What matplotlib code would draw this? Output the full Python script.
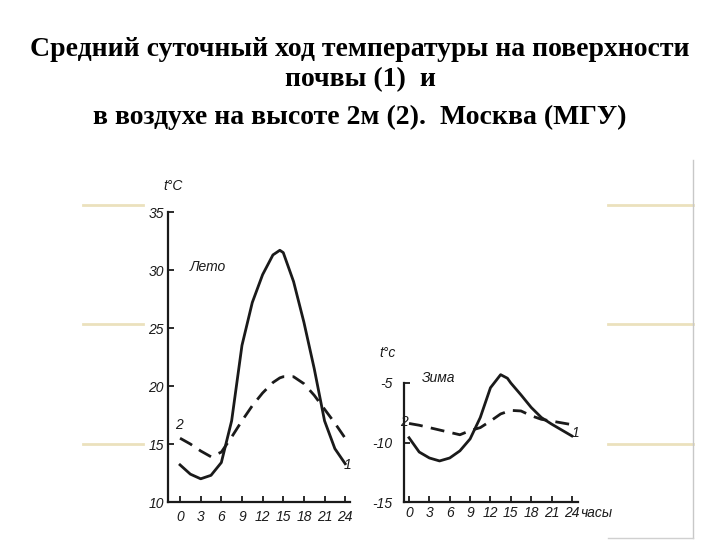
import matplotlib
matplotlib.use('Agg')
import matplotlib.pyplot as plt

# ---------------- данные ----------------
hours = [0, 1.5, 3, 4.5, 6, 7.5, 9, 10.5, 12, 13.5, 14.5, 15, 16.5, 18, 19.5, 21, 22.5, 24]
summer_soil = [13.2, 12.4, 12.0, 12.3, 13.4, 17.0, 23.5, 27.2, 29.6, 31.3, 31.7, 31.5, 29.0,
               25.5, 21.5, 17.0, 14.6, 13.3]
summer_air = [15.5, 15.0, 14.4, 13.9, 14.3, 15.6, 17.0, 18.3, 19.4, 20.3, 20.7, 20.8, 20.8,
              20.2, 19.2, 18.0, 16.8, 15.5]
winter_soil = [-9.6, -10.8, -11.3, -11.55, -11.3, -10.7, -9.7, -7.9, -5.4, -4.3, -4.6, -5.0,
               -6.0, -7.05, -7.9, -8.45, -8.95, -9.45]
winter_air = [-8.4, -8.55, -8.75, -8.95, -9.15, -9.35, -9.0, -8.75, -8.2, -7.6, -7.4, -7.3,
              -7.35, -7.75, -8.05, -8.2, -8.35, -8.5]

hour_ticks = [0, 3, 6, 9, 12, 15, 18, 21, 24]
summer_yticks = [10, 15, 20, 25, 30, 35]
winter_yticks = [-15, -10, -5]

W, H = 720, 540
fig = plt.figure(figsize=(7.2, 5.4), dpi=100)

def px_axes(x0, y0, x1, y1):
    # прямоугольник в пикселях (y сверху вниз)
    return fig.add_axes([x0 / W, 1 - y1 / H, (x1 - x0) / W, (y1 - y0) / H])

# ---------------- декор слайда ----------------
deco = fig.add_axes([0, 0, 1, 1])
deco.set_xlim(0, W)
deco.set_ylim(H, 0)
deco.axis('off')
beige = '#ebe1bd'
for yy in [205, 324, 444]:
    deco.plot([83, 143], [yy, yy], color=beige, lw=2)
    deco.plot([608, 693], [yy, yy], color=beige, lw=2)
deco.plot([693, 693], [160, 538], color='#c8c8c8', lw=1)
deco.plot([608, 693], [538, 538], color='#d0d0d0', lw=1)

title_kw = dict(family=['Liberation Serif', 'DejaVu Serif'], weight='bold', fontsize=20,
                ha='center', va='center', color='black')
fig.text(0.5, 1 - 50 / H, 'Средний суточный ход температуры на поверхности', **title_kw)
fig.text(0.5, 1 - 80 / H, 'почвы (1)  и', **title_kw)
fig.text(0.5, 1 - 117 / H, 'в воздухе на высоте 2м (2).  Москва (МГУ)', **title_kw)

tick_font = dict(family=['Liberation Sans', 'DejaVu Sans'], style='italic', size=10)
ink = '#1a1a1a'

def style_axes(ax, ypad, xpad):
    for s in ['top', 'right']:
        ax.spines[s].set_visible(False)
    for s in ['left', 'bottom']:
        ax.spines[s].set_linewidth(1.6)
        ax.spines[s].set_color(ink)
    ax.patch.set_alpha(0)
    ax.tick_params(axis='both', direction='in', length=4, width=1.3, color=ink)
    ax.tick_params(axis='y', pad=ypad)
    ax.tick_params(axis='x', pad=xpad)
    for lab in ax.get_xticklabels() + ax.get_yticklabels():
        lab.set(**tick_font)
        lab.set_color(ink)

def note(ax, x, y, s):
    ax.text(x, y, s, fontdict=tick_font, ha='center', va='center', color=ink, clip_on=False)

# ---------------- Лето ----------------
ax1 = px_axes(168, 212, 350, 502)
ax1.plot(hours, summer_soil, color=ink, lw=2.0, solid_joinstyle='round', clip_on=False)
ax1.plot(hours, summer_air, color=ink, lw=2.0, dashes=(5, 3), clip_on=False)
ax1.set_xlim(-1.75, 24.7)
ax1.set_ylim(10, 35)
ax1.set_xticks(hour_ticks)
ax1.set_yticks(summer_yticks)
ax1.spines['left'].set_bounds(10, 35)
style_axes(ax1, 3, 6)
note(ax1, -1.0, 37.2, 't°C')
note(ax1, 4.0, 30.3, 'Лето')
note(ax1, -0.1, 16.6, '2')
note(ax1, 24.4, 13.2, '1')

# ---------------- Зима ----------------
ax2 = px_axes(404, 383, 578, 502)
ax2.plot(hours, winter_soil, color=ink, lw=2.0, solid_joinstyle='round', clip_on=False)
ax2.plot(hours, winter_air, color=ink, lw=2.0, dashes=(5, 3), clip_on=False)
ax2.set_xlim(-0.74, 24.9)
ax2.set_ylim(-15, -5)
ax2.set_xticks(hour_ticks)
ax2.set_yticks(winter_yticks)
ax2.set_yticklabels(['-15', '-10', '-5'])
ax2.spines['left'].set_bounds(-15, -5)
style_axes(ax2, 8, 3)
note(ax2, -3.2, -2.5, 't°c')
note(ax2, 4.3, -4.6, 'Зима')
note(ax2, -0.8, -8.3, '2')
note(ax2, 24.6, -9.2, '1')
note(ax2, 27.6, -15.95, 'часы')

fig.savefig('out.png', dpi=100, facecolor='white')
